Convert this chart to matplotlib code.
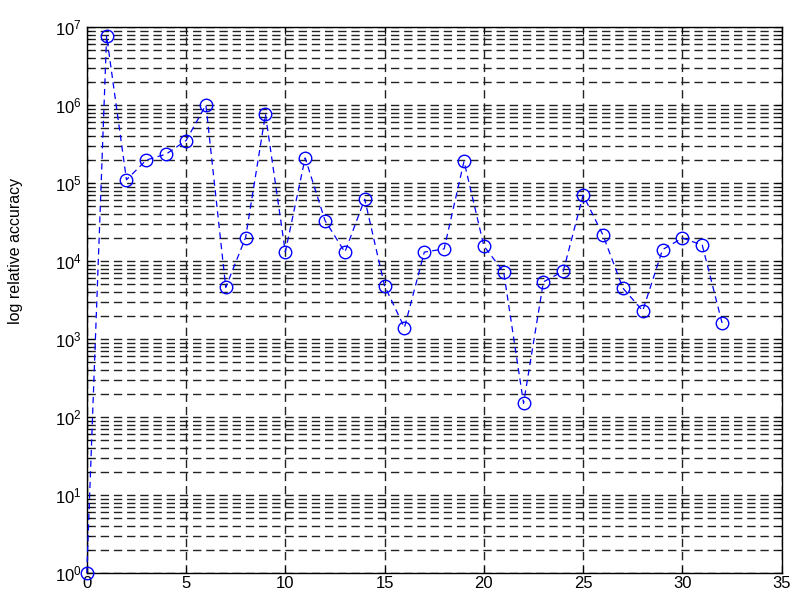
import numpy as np
import matplotlib.pyplot as plt
from matplotlib.ticker import FixedLocator, NullFormatter

plt.rcParams['font.family'] = ['Liberation Sans', 'DejaVu Sans']
plt.rcParams['mathtext.fontset'] = 'custom'
plt.rcParams['mathtext.rm'] = 'Liberation Sans'
plt.rcParams['mathtext.it'] = 'Liberation Sans'

# iteration index and relative accuracy at each step
iteration = np.arange(33)
accuracy = [1.0, 7.7e6, 1.1e5, 1.97e5, 2.35e5, 3.5e5, 1.0e6, 4.6e3, 2.0e4,
            7.6e5, 1.3e4, 2.1e5, 3.3e4, 1.3e4, 6.2e4, 4.8e3, 1.4e3, 1.3e4,
            1.43e4, 1.9e5, 1.56e4, 7.2e3, 150, 5.4e3, 7.4e3, 7.0e4, 2.15e4,
            4.5e3, 2.3e3, 1.4e4, 1.97e4, 1.6e4, 1.6e3]

x_ticks = [0, 5, 10, 15, 20, 25, 30, 35]
decades = [1e0, 1e1, 1e2, 1e3, 1e4, 1e5, 1e6, 1e7]

fig = plt.figure(figsize=(7.96, 6.07), dpi=100)
ax = fig.add_axes([0.109, 0.056, 0.873, 0.8995])

ax.semilogy(iteration, accuracy, 'o--', color='blue', mfc='none',
            markersize=9, lw=0.9, dashes=(5, 3.5), clip_on=False, zorder=3)

ax.set_xlim(0, 35)
ax.set_ylim(1, 1e7)
ax.xaxis.set_major_locator(FixedLocator(x_ticks))
ax.yaxis.set_major_locator(FixedLocator(decades))
minor = [d * k for d in decades[:-1] for k in range(2, 10)]
ax.yaxis.set_minor_locator(FixedLocator(minor))
ax.yaxis.set_minor_formatter(NullFormatter())

grid_style = dict(color='#222222', ls='--', lw=1.0, dashes=(6, 3.5))
ax.grid(True, which='major', **grid_style)
ax.grid(True, which='minor', axis='y', **grid_style)
ax.set_axisbelow(True)

ax.tick_params(which='both', direction='in', top=True, right=True,
               labelsize=12, color='black')
ax.tick_params(axis='x', pad=2)
ax.tick_params(which='major', length=5)
ax.tick_params(which='minor', length=3)
for s in ax.spines.values():
    s.set_linewidth(1.0)

ax.set_ylabel('log relative accuracy', fontsize=11.5)
ax.yaxis.set_label_coords(-0.092, 0.59)

fig.savefig('out.png', dpi=100)
